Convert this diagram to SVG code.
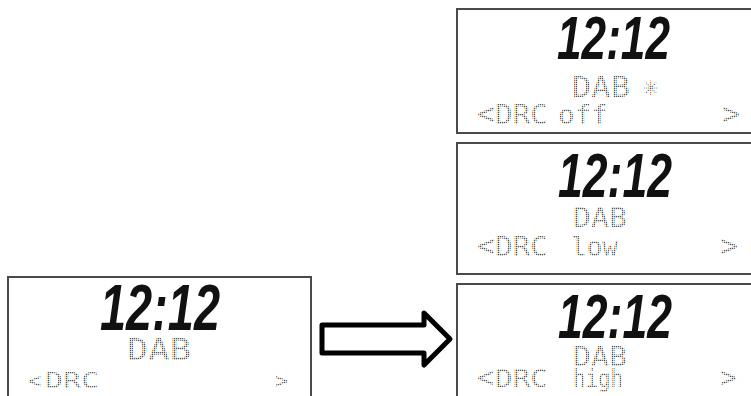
<svg xmlns="http://www.w3.org/2000/svg" width="751" height="396" viewBox="0 0 751 396">
<defs>
<pattern id="dots" width="2" height="2" patternUnits="userSpaceOnUse"><rect width="1.3" height="1.3" fill="#555"/></pattern>
</defs>
<style>
.box{fill:#fff;stroke:#4a4a4a;stroke-width:2}
.clock{font-family:"Liberation Sans",sans-serif;font-weight:bold;font-style:italic;fill:#111}
.dot{font-family:"DejaVu Sans Mono",monospace;fill:url(#dots)}
.arrow{fill:#fff;stroke:#000;stroke-width:5;stroke-linejoin:round}
</style>
<rect width="751" height="396" fill="#fff"/>
<g id="display-left">
<rect class="box" x="8" y="277" width="303" height="130"/>
<text class="clock" x="100" y="330" font-size="65" textLength="120" lengthAdjust="spacingAndGlyphs">12:12</text>
<text class="dot" x="127" y="360" font-size="30" textLength="64" lengthAdjust="spacingAndGlyphs">DAB</text>
<text class="dot" x="28" y="388" font-size="22">&lt;</text>
<text class="dot" x="45" y="388" font-size="22" textLength="54" lengthAdjust="spacingAndGlyphs">DRC</text>
<text class="dot" x="275" y="388" font-size="22">&gt;</text>
</g>
<g id="display-off">
<rect class="box" x="457" y="9" width="300" height="124"/>
<text class="clock" x="557" y="59" font-size="61" textLength="113" lengthAdjust="spacingAndGlyphs">12:12</text>
<text class="dot" x="572" y="97" font-size="29" textLength="58" lengthAdjust="spacingAndGlyphs">DAB</text>
<text class="dot" x="643" y="95" font-size="26">✳</text>
<text class="dot" x="477" y="124" font-size="30">&lt;</text>
<text class="dot" x="495" y="124" font-size="26" textLength="53" lengthAdjust="spacingAndGlyphs">DRC</text>
<text class="dot" x="558" y="124" font-size="26" textLength="50" lengthAdjust="spacingAndGlyphs">off</text>
<text class="dot" x="722" y="124" font-size="30">&gt;</text>
</g>
<g id="display-low">
<rect class="box" x="457" y="143" width="300" height="131"/>
<text class="clock" x="558" y="197" font-size="63" textLength="114" lengthAdjust="spacingAndGlyphs">12:12</text>
<text class="dot" x="573" y="227" font-size="27" textLength="54" lengthAdjust="spacingAndGlyphs">DAB</text>
<text class="dot" x="477" y="256" font-size="30">&lt;</text>
<text class="dot" x="495" y="256" font-size="26" textLength="53" lengthAdjust="spacingAndGlyphs">DRC</text>
<text class="dot" x="571" y="256" font-size="26" textLength="47" lengthAdjust="spacingAndGlyphs">low</text>
<text class="dot" x="720" y="256" font-size="30">&gt;</text>
</g>
<g id="display-high">
<rect class="box" x="457" y="284" width="300" height="130"/>
<text class="clock" x="558" y="338" font-size="63" textLength="114" lengthAdjust="spacingAndGlyphs">12:12</text>
<text class="dot" x="573" y="366" font-size="27" textLength="54" lengthAdjust="spacingAndGlyphs">DAB</text>
<text class="dot" x="477" y="387" font-size="28">&lt;</text>
<text class="dot" x="495" y="387" font-size="25" textLength="53" lengthAdjust="spacingAndGlyphs">DRC</text>
<text class="dot" x="573" y="387" font-size="25" textLength="50" lengthAdjust="spacingAndGlyphs">high</text>
<text class="dot" x="720" y="387" font-size="28">&gt;</text>
</g>
<g id="connectors">
<polygon class="arrow" points="322,325 424,325 424,313 450,339 424,365 424,353 322,353"/>
</g>
</svg>
